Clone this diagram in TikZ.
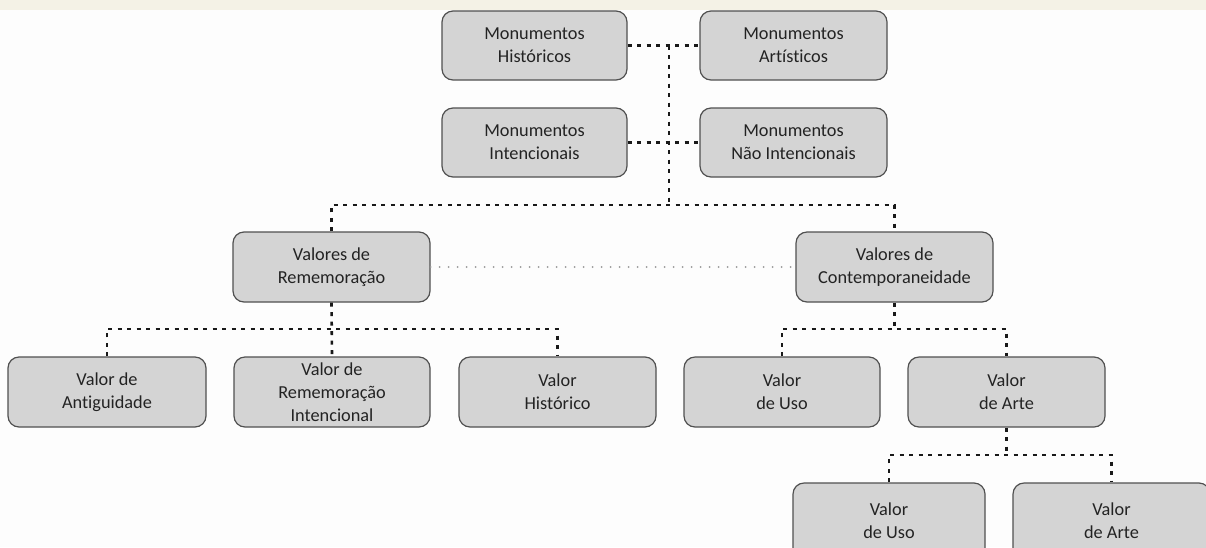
\documentclass[tikz,border=0pt]{standalone}
\usepackage{fontspec}
\setmainfont{Carlito}[Ligatures={NoCommon}]
\usetikzlibrary{calc}
\definecolor{boxfill}{RGB}{212,212,212}
\definecolor{boxline}{RGB}{80,80,80}
\definecolor{txt}{RGB}{35,35,35}
\definecolor{strip}{RGB}{244,242,230}
\definecolor{bg}{RGB}{253,253,253}
\tikzset{
  box/.style={draw=boxline, line width=1.2pt, fill=boxfill, rounded corners=11pt,
    minimum height=69pt, align=center, text=txt, inner sep=2pt,
    font=\fontsize{18.3}{23}\selectfont},
  conn/.style={draw=black!90, line width=2.6pt, dash pattern=on 4pt off 5.5pt},
  gdot/.style={draw=black!40, line width=2pt, line cap=round, dash pattern=on 0pt off 9pt}
}
\begin{document}
\begin{tikzpicture}[x=1pt,y=1pt]
\useasboundingbox (0,0) rectangle (1206,-547);
\fill[bg] (0,0) rectangle (1206,-547);
\fill[strip] (0,0) rectangle (1206,-10);

\node[box, minimum width=185pt] (MH) at (534.5,-45.5) {Monumentos\\Históricos};
\node[box, minimum width=187pt] (MA) at (793.5,-45.5) {Monumentos\\Artísticos};
\node[box, minimum width=185pt] (MI) at (534.5,-142.5) {Monumentos\\Intencionais};
\node[box, minimum width=187pt] (MN) at (793.5,-142.5) {Monumentos\\Não Intencionais};

\node[box, minimum width=197pt, minimum height=70pt] (VR) at (331.5,-267) {Valores de\\Rememoração};
\node[box, minimum width=197pt, minimum height=70pt] (VC) at (894.5,-267) {Valores de\\Contemporaneidade};

\node[box, minimum width=198pt, minimum height=70pt] (VAnt) at (107,-392) {Valor de\\Antiguidade};
\node[box, minimum width=196pt, minimum height=70pt] (VRI) at (332,-392) {Valor de\\Rememoração\\Intencional};
\node[box, minimum width=197pt, minimum height=70pt] (VH) at (557.5,-392) {Valor\\Histórico};
\node[box, minimum width=196pt, minimum height=70pt] (VU) at (782,-392) {Valor\\de Uso};
\node[box, minimum width=197pt, minimum height=70pt] (VA) at (1006.5,-392) {Valor\\de Arte};

\node[box, minimum width=192pt, minimum height=76pt] (VU2) at (889,-521) {Valor\\de Uso};
\node[box, minimum width=197pt, minimum height=76pt] (VA2) at (1111.5,-521) {Valor\\de Arte};

\coordinate (t1) at (669,-45.5);
\coordinate (t2) at (669,-205);
\coordinate (b1) at (332,-329);
\coordinate (c1) at (894.5,-329);
\coordinate (d1) at (1006.5,-455);

\draw[conn] (MH.east) -- (MA.west);
\draw[conn] (MI.east) -- (MN.west);
\draw[conn] (t1) -- (t2);
\draw[conn] (VR.north) |- (t2) -| (VC.north);

\draw[conn] (VR.south) -- (VRI.north);
\draw[conn] (VAnt.north) |- (b1) -| (VH.north);

\draw[conn] (VC.south) -- (c1);
\draw[conn] (VU.north) |- (c1) -| (VA.north);

\draw[conn] (VA.south) -- (d1);
\draw[conn] (VU2.north) |- (d1) -| (VA2.north);

\draw[gdot] (VR.east) -- (VC.west);
\end{tikzpicture}
\end{document}
